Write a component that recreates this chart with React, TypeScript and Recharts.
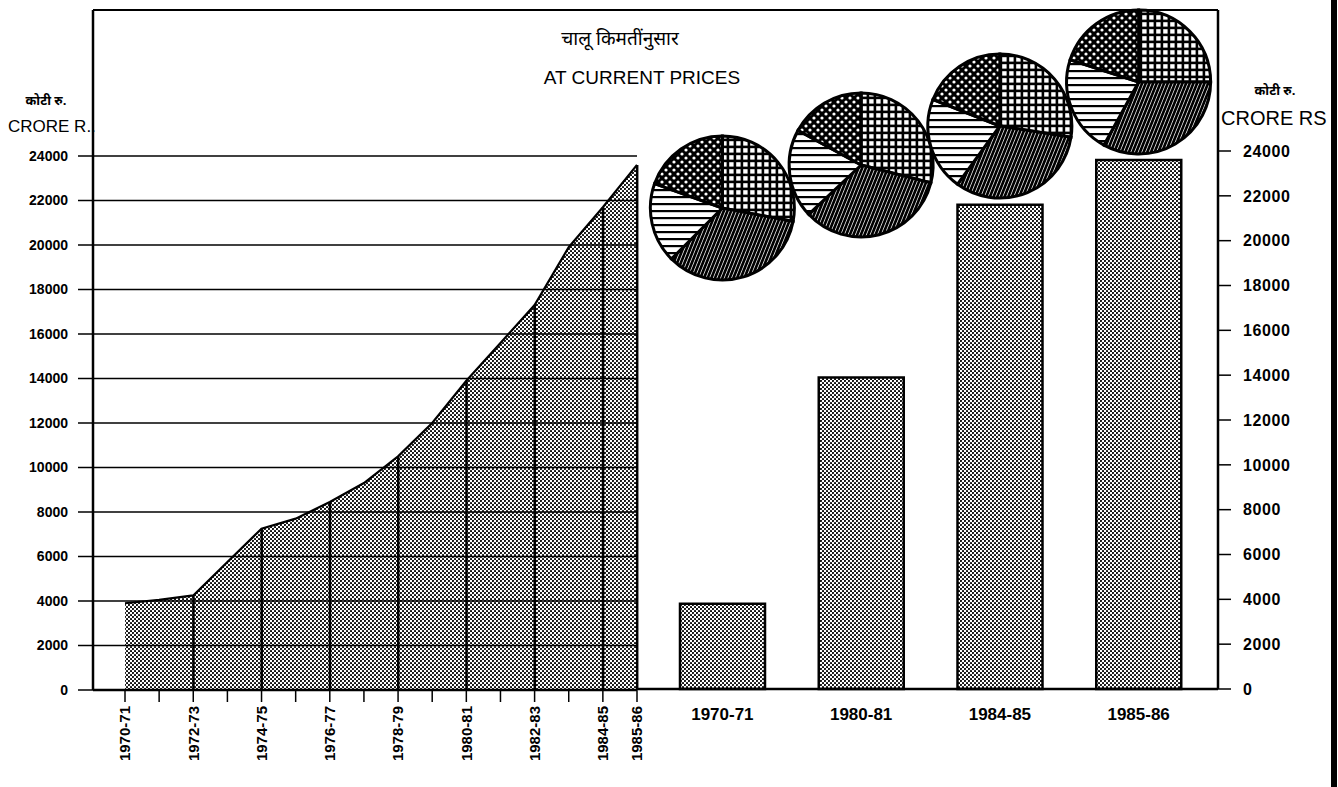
import React from 'react';
import { ComposedChart, Area, Bar, XAxis, YAxis, CartesianGrid, PieChart, Pie, Cell } from 'recharts';

// ---------- data ----------
const yearLabels = ['1970-71', '1971-72', '1972-73', '1973-74', '1974-75', '1975-76', '1976-77', '1977-78', '1978-79', '1979-80', '1980-81', '1981-82', '1982-83', '1983-84', '1984-85', '1985-86'];
const incomeValues = [3900, 4050, 4250, 5750, 7250, 7700, 8450, 9300, 10500, 12000, 13900, 15600, 17300, 19900, 21700, 23600];
const shownYearLabels = ['1970-71', '1972-73', '1974-75', '1976-77', '1978-79', '1980-81', '1982-83', '1984-85', '1985-86'];
const ruledYears = ['1972-73', '1974-75', '1976-77', '1978-79', '1980-81', '1982-83', '1984-85', '1985-86'];
const valueTicks = [0, 2000, 4000, 6000, 8000, 10000, 12000, 14000, 16000, 18000, 20000, 22000, 24000];

const barYears = ['1970-71', '1980-81', '1984-85', '1985-86'];
const barValues = [3800, 13900, 21600, 23600];

// sector shares, clockwise from the top
const sectorKeys = ['grid', 'hatch', 'lines', 'dots'];
const shares1970 = [28, 34.5, 18, 19.5];
const shares1980 = [29, 34, 20, 17];
const shares1984 = [27.5, 32.5, 21, 19];
const shares1985 = [25, 33, 22, 20];
const pieShares = [shares1970, shares1980, shares1984, shares1985];

const titleMarathi = 'चालू किमतींनुसार';
const titleEnglish = 'AT CURRENT PRICES';
const unitMarathi = 'कोटी रु.';
const unitLeft = 'CRORE R..';
const unitRight = 'CRORE RS';

// ---------- styling ----------
const FONT = "'Liberation Sans', Arial, Helvetica, sans-serif";
const NARROW = "'Liberation Sans Narrow', 'Liberation Sans', Arial, sans-serif";
const DEVA = "'Noto Sans Devanagari', 'Lohit Devanagari', 'Noto Sans', sans-serif";

const W = 1338;
const H = 787;
const LEFT_AXIS_X = 93;
const LEFT_PLOT_RIGHT = 637;
const LEFT_TOP = 156;
const LEFT_BOTTOM = 690;
const RIGHT_PLOT_LEFT = 638;
const RIGHT_AXIS_X = 1218;
const RIGHT_TOP = 151;
const RIGHT_BOTTOM = 689;
const RIGHT_PAD_L = 15;
const RIGHT_PAD_R = 10;
const BAND = (RIGHT_AXIS_X - RIGHT_PLOT_LEFT - RIGHT_PAD_L - RIGHT_PAD_R) / barYears.length;
const PIE_CY = [208, 165, 126, 82];
const PIE_R = 72;

const areaData = yearLabels.map((year, i) => ({
  idx: i,
  year,
  value: incomeValues[i],
  rule: ruledYears.includes(year) ? incomeValues[i] : null,
}));

const barData = barYears.map((year, i) => ({ year, value: barValues[i] }));

const RotatedTick = (props: any) => {
  const { x, y, payload } = props;
  const label = yearLabels[payload.value];
  if (!shownYearLabels.includes(label)) return <g />;
  return (
    <text
      transform={`translate(${x},${y + 2}) rotate(-90)`}
      textAnchor="end"
      dy="0.36em"
      fontFamily={FONT}
      fontWeight={700}
      fontSize={15}
      fill="#000"
    >
      {label}
    </text>
  );
};

const layer: React.CSSProperties = { position: 'absolute', left: 0, top: 0 };

export default function App() {
  return (
    <div style={{ position: 'absolute', left: 0, top: 0, width: W, height: H, background: '#fff', overflow: 'hidden' }}>
      <svg width={0} height={0} style={{ position: 'absolute' }}>
        <defs>
          <pattern id="halftone" width="4" height="4" patternUnits="userSpaceOnUse">
            <circle cx="1" cy="1" r="1.05" fill="#000" />
            <circle cx="3" cy="3" r="1.05" fill="#000" />
          </pattern>
          <pattern id="pgrid" width="7" height="7" patternUnits="userSpaceOnUse">
            <rect width="7" height="7" fill="#000" />
            <rect x="1.2" y="1.2" width="4.4" height="4.4" fill="#fff" />
          </pattern>
          <pattern id="pdots" width="8" height="8" patternUnits="userSpaceOnUse">
            <rect width="8" height="8" fill="#000" />
            <circle cx="2" cy="2" r="1.6" fill="#fff" />
            <circle cx="6" cy="6" r="1.6" fill="#fff" />
          </pattern>
          <pattern id="plines" width="7" height="7" patternUnits="userSpaceOnUse">
            <rect width="7" height="7" fill="#fff" />
            <rect y="0" width="7" height="2.2" fill="#000" />
          </pattern>
          <pattern id="phatch" width="3.4" height="10" patternUnits="userSpaceOnUse" patternTransform="rotate(22)">
            <rect width="3.4" height="10" fill="#000" />
            <rect x="0" width="0.7" height="10" fill="#fff" />
          </pattern>
        </defs>
      </svg>

      {/* left panel: area */}
      <div style={layer}>
        <ComposedChart
          width={W}
          height={H}
          data={areaData}
          margin={{ top: LEFT_TOP, right: W - LEFT_PLOT_RIGHT, bottom: 0, left: 0 }}
        >
          <CartesianGrid vertical={false} stroke="#000" strokeWidth={1.4} />
          <XAxis
            type="number"
            dataKey="idx"
            domain={[0, yearLabels.length - 1]}
            ticks={yearLabels.map((_, i) => i)}
            interval={0}
            padding={{ left: 32, right: 0 }}
            height={H - LEFT_BOTTOM}
            tickSize={12}
            tickMargin={2}
            axisLine={{ stroke: '#000', strokeWidth: 2.5 }}
            tickLine={{ stroke: '#000', strokeWidth: 1.5 }}
            tick={<RotatedTick />}
          />
          <YAxis
            domain={[0, 24000]}
            ticks={valueTicks}
            interval={0}
            width={LEFT_AXIS_X}
            tickSize={15}
            tickMargin={10}
            axisLine={{ stroke: '#000', strokeWidth: 2.5 }}
            tickLine={{ stroke: '#000', strokeWidth: 1.5 }}
            tick={{ fill: '#000', fontSize: 14, fontWeight: 700, fontFamily: NARROW }}
          />
          <Area
            type="linear"
            dataKey="value"
            fill="url(#halftone)"
            fillOpacity={1}
            stroke="#000"
            strokeWidth={2.2}
            isAnimationActive={false}
          />
          <Bar dataKey="rule" barSize={2.5} fill="#000" isAnimationActive={false} />
        </ComposedChart>
      </div>

      {/* right panel: bars */}
      <div style={layer}>
        <ComposedChart
          width={W}
          height={H}
          data={barData}
          margin={{ top: RIGHT_TOP, right: 0, bottom: 0, left: RIGHT_PLOT_LEFT }}
        >
          <XAxis
            dataKey="year"
            padding={{ left: RIGHT_PAD_L, right: RIGHT_PAD_R }}
            height={H - RIGHT_BOTTOM}
            tickLine={false}
            tickSize={0}
            tickMargin={19}
            axisLine={{ stroke: '#000', strokeWidth: 2.5 }}
            tick={{ fill: '#000', fontSize: 17, fontWeight: 700, fontFamily: FONT }}
          />
          <YAxis
            orientation="right"
            domain={[0, 24000]}
            ticks={valueTicks}
            interval={0}
            width={W - RIGHT_AXIS_X}
            tickSize={13}
            tickMargin={12}
            axisLine={{ stroke: '#000', strokeWidth: 2.5 }}
            tickLine={{ stroke: '#000', strokeWidth: 1.5 }}
            tick={{ fill: '#000', fontSize: 16, fontWeight: 700, fontFamily: FONT, letterSpacing: 0.6 }}
          />
          <Bar
            dataKey="value"
            barSize={85}
            fill="url(#halftone)"
            stroke="#000"
            strokeWidth={2.5}
            isAnimationActive={false}
          />
        </ComposedChart>
      </div>

      {/* pies */}
      <div style={layer}>
        <PieChart width={W} height={H} margin={{ top: 0, right: 0, bottom: 0, left: 0 }}>
          {pieShares.map((shares, p) => (
            <Pie
              key={barYears[p]}
              data={sectorKeys.map((k, j) => ({ name: k, value: shares[j] }))}
              dataKey="value"
              nameKey="name"
              cx={RIGHT_PLOT_LEFT + RIGHT_PAD_L + BAND * (p + 0.5)}
              cy={PIE_CY[p]}
              outerRadius={PIE_R}
              innerRadius={0}
              startAngle={90}
              endAngle={-270}
              stroke="#000"
              strokeWidth={3}
              isAnimationActive={false}
            >
              {sectorKeys.map((k) => (
                <Cell key={k} fill={`url(#p${k})`} />
              ))}
            </Pie>
          ))}
        </PieChart>
      </div>

      {/* frame and titles */}
      <svg width={W} height={H} style={{ ...layer, pointerEvents: 'none' }}>
        <line x1={LEFT_AXIS_X} y1={10} x2={RIGHT_AXIS_X} y2={10} stroke="#000" strokeWidth={2} />
        <line x1={LEFT_AXIS_X} y1={10} x2={LEFT_AXIS_X} y2={LEFT_TOP} stroke="#000" strokeWidth={2.5} />
        <line x1={RIGHT_AXIS_X} y1={10} x2={RIGHT_AXIS_X} y2={RIGHT_TOP} stroke="#000" strokeWidth={2.5} />
        <rect x={1331} y={0} width={6} height={H} fill="#000" />
        <text x={620} y={45} textAnchor="middle" fontFamily={DEVA} fontSize={19} fill="#000">{titleMarathi}</text>
        <text x={642} y={84} textAnchor="middle" fontFamily={FONT} fontSize={19} fill="#000">{titleEnglish}</text>
        <text x={46} y={105} textAnchor="middle" fontFamily={DEVA} fontSize={13} fontWeight={700} fill="#000">{unitMarathi}</text>
        <text x={8} y={132} fontFamily={FONT} fontSize={17} fill="#000">{unitLeft}</text>
        <text x={1275} y={95} textAnchor="middle" fontFamily={DEVA} fontSize={13} fontWeight={700} fill="#000">{unitMarathi}</text>
        <text x={1221} y={125} fontFamily={FONT} fontSize={20} fill="#000">{unitRight}</text>
      </svg>
    </div>
  );
}
